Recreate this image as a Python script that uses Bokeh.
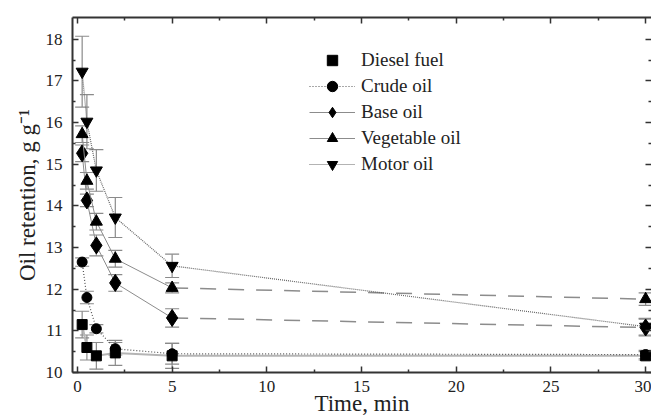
from bokeh.plotting import figure
from bokeh.models import (ColumnDataSource, Whisker, TeeHead, Legend, LegendItem,
                          LinearAxis, FixedTicker, Range1d, CustomJSTickFormatter)
from bokeh.embed import file_html
from bokeh.resources import INLINE

# ---- data ----
times = [0.25, 0.5, 1, 2, 5, 30]
diesel = [11.15, 10.6, 10.4, 10.47, 10.4, 10.4]
diesel_err = [0.32, 0.3, 0.32, 0.3, 0.3, 0.1]
crude = [12.65, 11.8, 11.05, 10.57, 10.45, 10.43]
crude_err = [0.1, 0.15, 0.1, 0.15, 0.25, 0.1]
base = [15.26, 14.13, 13.05, 12.15, 11.31, 11.08]
base_err = [0.2, 0.15, 0.25, 0.2, 0.22, 0.2]
veg = [15.72, 14.6, 13.62, 12.73, 12.03, 11.76]
veg_err = [0.2, 0.2, 0.2, 0.2, 0.12, 0.15]
motor = [17.22, 16.02, 14.85, 13.72, 12.56, 11.1]
motor_err = [0.85, 0.65, 0.5, 0.48, 0.28, 0.2]

labels = ["Diesel fuel", "Crude oil", "Base oil", "Vegetable oil", "Motor oil"]
x_ticks = [0, 5, 10, 15, 20, 25, 30]
y_ticks = [10, 11, 12, 13, 14, 15, 16, 17, 18]

FONT = "Liberation Serif"
TXT = "#222222"
AX = "#333333"

p = figure(width=651, height=418, output_backend="svg", toolbar_location=None,
           x_range=Range1d(-0.26, 30.31), y_range=Range1d(10, 18.52),
           min_border_left=72, min_border_right=0, min_border_top=17,
           min_border_bottom=10)
p.outline_line_color = None
p.xgrid.visible = False
p.ygrid.visible = False
p.background_fill_color = "white"
p.border_fill_color = "white"

def style_axis(ax, ticks, label_size):
    ax.ticker = FixedTicker(ticks=ticks, minor_ticks=[
        t + (ticks[1] - ticks[0]) / 2 for t in ticks[:-1]])
    ax.axis_line_color = AX
    ax.axis_line_width = 2
    ax.major_tick_in = 6
    ax.major_tick_out = 0
    ax.minor_tick_in = 3
    ax.minor_tick_out = 0
    ax.major_tick_line_color = AX
    ax.minor_tick_line_color = AX
    ax.major_tick_line_width = 1.5
    ax.minor_tick_line_width = 1.5
    ax.major_label_text_font = FONT
    ax.major_label_text_font_size = label_size
    ax.major_label_text_color = TXT
    ax.axis_label_text_font = FONT
    ax.axis_label_text_font_style = "normal"
    ax.axis_label_text_color = TXT

xa = p.xaxis[0]
style_axis(xa, x_ticks, "17px")
xa.axis_label = "Time, min"
xa.axis_label_text_font_size = "23px"
xa.major_label_standoff = 8
xa.axis_label_standoff = -4

ya = p.yaxis[0]
style_axis(ya, y_ticks, "17px")
ya.axis_label = "Oil retention, g g\u207b\u00b9"
ya.axis_label_text_font_size = "23px"
ya.major_label_standoff = 10
ya.axis_label_standoff = 3

top = LinearAxis(formatter=CustomJSTickFormatter(code="return ''"))
style_axis(top, x_ticks, "17px")
top.major_label_standoff = 0
top.axis_label_standoff = 0
p.add_layout(top, "above")

right = LinearAxis(formatter=CustomJSTickFormatter(code="return ''"))
style_axis(right, y_ticks, "17px")
right.major_label_standoff = 0
right.axis_label_standoff = 0
right.axis_line_color = None
p.add_layout(right, "right")

ERR = "#8a8a8a"

def add_err(y, e):
    src = ColumnDataSource(dict(x=times, up=[a + b for a, b in zip(y, e)],
                                lo=[a - b for a, b in zip(y, e)]))
    w = Whisker(source=src, base="x", upper="up", lower="lo",
                line_color=ERR, line_width=1.2, level="underlay",
                upper_head=TeeHead(size=14, line_color=ERR, line_width=1.2),
                lower_head=TeeHead(size=14, line_color=ERR, line_width=1.2))
    p.add_layout(w)

for y, e in [(diesel, diesel_err), (crude, crude_err), (base, base_err),
             (veg, veg_err), (motor, motor_err)]:
    add_err(y, e)

items = []

# Diesel fuel: light solid line, legend shows marker only
p.line(times, diesel, line_color="#b5b5b5", line_width=2)
r = p.scatter(times, diesel, marker="square", size=10, fill_color="black",
              line_color="black")
items.append(LegendItem(label=labels[0], renderers=[r]))

# Crude oil: dotted
l1 = p.line(times, crude, line_color="#555555", line_width=1.2, line_dash="1 2")
r = p.scatter(times, crude, marker="circle", size=10, fill_color="black",
              line_color="black")
items.append(LegendItem(label=labels[1], renderers=[l1, r]))

# Base oil: thin solid to 5 min, long dash to 30
l1 = p.line(times[:5], base[:5], line_color="#8c8c8c", line_width=1)
p.line(times[4:], base[4:], line_color="#8c8c8c", line_width=1.5, line_dash="16 12")
r = p.scatter(times, base, marker="diamond", size=17, fill_color="black",
              line_color="black")
items.append(LegendItem(label=labels[2], renderers=[l1, r]))

# Vegetable oil
l1 = p.line(times[:5], veg[:5], line_color="#8c8c8c", line_width=1)
p.line(times[4:], veg[4:], line_color="#8c8c8c", line_width=1.5, line_dash="16 12")
r = p.scatter(times, veg, marker="triangle", size=12, fill_color="black",
              line_color="black")
items.append(LegendItem(label=labels[3], renderers=[l1, r]))

# Motor oil: dotted
l1 = p.line(times, motor, line_color="#666666", line_width=1.2, line_dash="1 1")
r = p.scatter(times, motor, marker="inverted_triangle", size=12, fill_color="black",
              line_color="black")
items.append(LegendItem(label=labels[4], renderers=[l1, r]))

legend = Legend(items=items, location=(237, 195))
legend.label_text_font = FONT
legend.label_text_font_size = "19px"
legend.label_text_color = TXT
legend.label_height = 26
legend.glyph_height = 26
legend.glyph_width = 46
legend.spacing = 0
legend.padding = 0
legend.margin = 0
legend.label_standoff = 6
legend.border_line_color = None
legend.background_fill_alpha = 0
p.add_layout(legend, "center")

open("out.html", "w").write(file_html(p, INLINE))
